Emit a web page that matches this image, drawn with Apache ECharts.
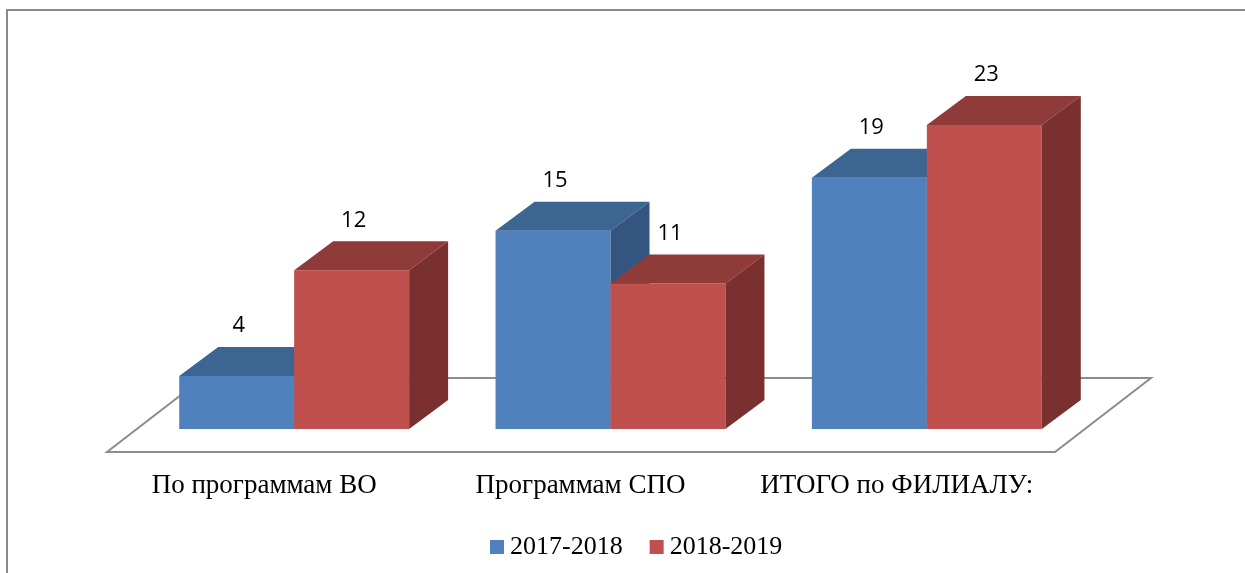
<!DOCTYPE html>
<html>
<head>
	<meta charset="utf-8">
	<title>3D столбцы</title>
	<script src="https://cdn.jsdelivr.net/npm/echarts@6/dist/echarts.min.js"></script>
	<style>
		html, body { margin: 0; padding: 0; background: #fff; }
		#chart { width: 1245px; height: 573px; }
	</style>
</head>
<body>
	<div id="chart"></div>
	<script type="text/javascript">
		// категории и значения
		var categories = ['По программам ВО', 'Программам СПО', 'ИТОГО по ФИЛИАЛУ:'];
		var seriesNames = ['2017-2018', '2018-2019'];
		var values2017 = [4, 15, 19];
		var values2018 = [12, 11, 23];

		// смещение "глубины" для псевдо-3D
		var depthX = 39, depthY = -29;

		var palette = [
			{ front: '#4F81BD', top: '#3D6591', side: '#345580' },
			{ front: '#C0504D', top: '#8F3B3A', side: '#7B3030' }
		];

		function makeBar(side) {
			var c = palette[side];
			return function (params, api) {
				var cat = api.value(0), val = api.value(1);
				var base = api.coord([cat, 0]);
				var top = api.coord([cat, val]);
				var band = api.size([1, 0])[0];
				var w = band * 0.3634;
				var x0 = side === 0 ? base[0] - w : base[0];
				var x1 = x0 + w;
				var yt = top[1], yb = base[1];
				return {
					type: 'group',
					children: [
						{
							type: 'rect',
							shape: { x: x0, y: yt, width: w, height: yb - yt },
							style: { fill: c.front }
						},
						{
							type: 'polygon',
							shape: { points: [[x0, yt], [x1, yt], [x1 + depthX, yt + depthY], [x0 + depthX, yt + depthY]] },
							style: { fill: c.top }
						},
						{
							type: 'polygon',
							shape: { points: [[x1, yt], [x1 + depthX, yt + depthY], [x1 + depthX, yb + depthY], [x1, yb]] },
							style: { fill: c.side }
						},
						{
							type: 'text',
							x: x0 + w / 2 + 2,
							y: yt + depthY - 21,
							style: {
								text: String(val),
								fill: '#000',
								font: '22px "Open Sans", sans-serif',
								align: 'center',
								verticalAlign: 'middle'
							}
						}
					]
				};
			};
		}

		// "пол" диаграммы
		function renderFloor(params) {
			var cs = params.coordSys;
			var gx = cs.x, gy = cs.y + cs.height, gw = cs.width;
			return {
				type: 'polygon',
				shape: {
					points: [
						[gx - 29, gy + 23],
						[gx + gw - 30, gy + 23],
						[gx + gw + 66, gy - 51],
						[gx + 67, gy - 51]
					]
				},
				style: { fill: '#fff', stroke: '#8c8c8c', lineWidth: 2 }
			};
		}

		var myChart = echarts.init(document.getElementById('chart'));

		var option = {
			backgroundColor: '#fff',
			animation: false,
			graphic: [{
				type: 'rect',
				shape: { x: 7, y: 10, width: 1400, height: 800 },
				style: { fill: 'none', stroke: '#8a8a8a', lineWidth: 2 },
				z: -1
			}],
			grid: { left: 136, right: 160, top: 98.5, bottom: 144 },
			legend: {
				data: seriesNames,
				left: 485,
				top: 528,
				icon: 'rect',
				itemWidth: 14,
				itemHeight: 14,
				itemGap: 27,
				textStyle: {
					fontFamily: '"Liberation Serif", serif',
					fontSize: 26,
					color: '#000',
					lineHeight: 28,
					padding: [0, 0, 0, 1]
				}
			},
			xAxis: {
				type: 'category',
				data: categories,
				axisLine: { show: false },
				axisTick: { show: false },
				splitLine: { show: false },
				axisLabel: {
					interval: 0,
					hideOverlap: false,
					fontFamily: '"Liberation Serif", serif',
					fontSize: 27,
					color: '#000',
					margin: 42,
					lineHeight: 30,
					padding: [0, 60, 0, 0]
				}
			},
			yAxis: {
				type: 'value',
				min: 0,
				max: 25,
				show: false
			},
			series: [
				{
					type: 'custom',
					renderItem: renderFloor,
					data: [[0, 0]],
					silent: true,
					clip: false,
					z: 1
				},
				{
					name: seriesNames[0],
					type: 'custom',
					renderItem: makeBar(0),
					itemStyle: { color: palette[0].front },
					data: values2017.map(function (v, i) { return [i, v]; }),
					encode: { x: 0, y: 1 },
					clip: false,
					z: 2
				},
				{
					name: seriesNames[1],
					type: 'custom',
					renderItem: makeBar(1),
					itemStyle: { color: palette[1].front },
					data: values2018.map(function (v, i) { return [i, v]; }),
					encode: { x: 0, y: 1 },
					clip: false,
					z: 3
				}
			]
		};

		myChart.setOption(option);
	</script>
</body>
</html>
